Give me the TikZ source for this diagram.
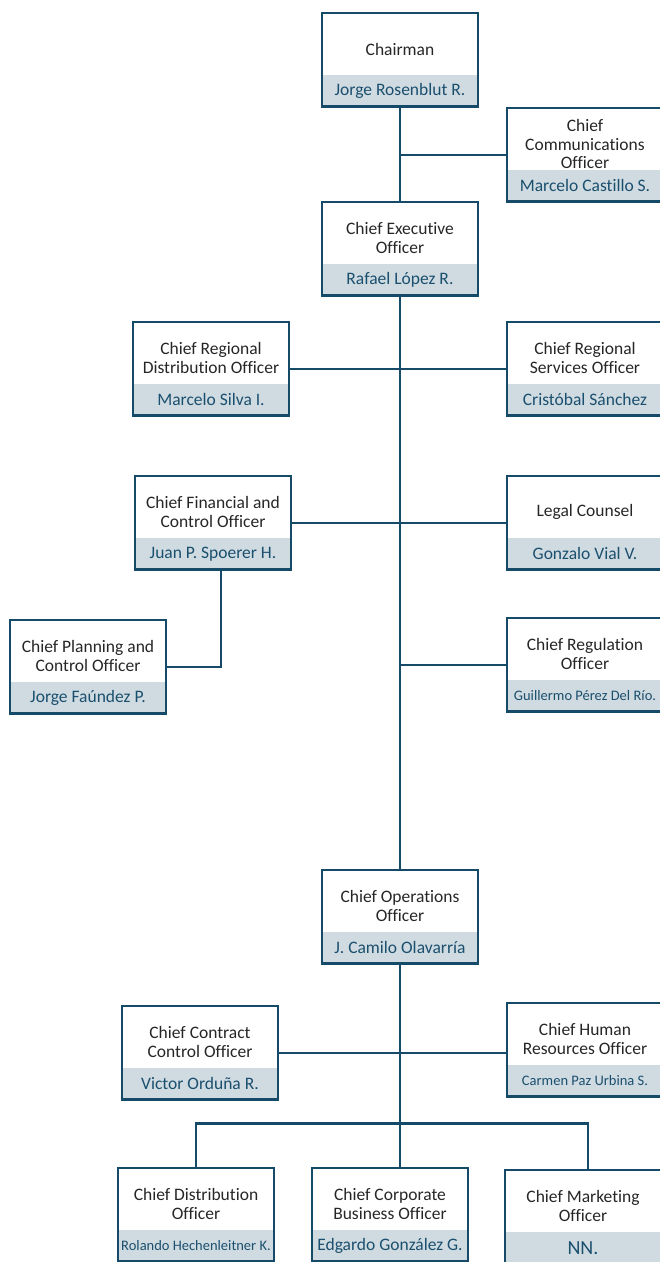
\documentclass[tikz,border=0pt]{standalone}
\usepackage{fontspec}
\setmainfont{Carlito}[Ligatures=NoCommon]
\usetikzlibrary{fit, positioning}
\definecolor{orgframe}{RGB}{22, 74, 105}
\definecolor{orgband}{RGB}{207, 219, 225}
\definecolor{orgname}{RGB}{27, 79, 110}
\newcommand{\smallname}{\fontsize{14.5}{17}\selectfont}
\newcommand{\bigname}{\fontsize{20}{22}\selectfont}
\newcommand{\orgunit}[5][]{%
  \node[unittitle] (#2t) at (#3) {#4};
  \node[unitname, below=0pt of #2t] (#2n) {#1#5};
  \coordinate (#2top) at ([yshift=10pt]#2t.north);
  \node[unitframe, fit=(#2top)(#2n)] (#2) {};
}
\tikzset{
  unittitle/.style={minimum width=155pt, minimum height=52pt, inner sep=0pt,
    align=center, text=black!85, font=\fontsize{17.5}{18.5}\selectfont},
  unitname/.style={minimum width=155pt, minimum height=31pt, inner sep=0pt,
    fill=orgband, text=orgname, font=\fontsize{17.5}{18.5}\selectfont},
  unitframe/.style={draw=orgframe, line width=2.3pt, inner sep=0pt},
  link/.style={draw=orgframe, line width=2.4pt}
}

\begin{document}
\begin{tikzpicture}[x=1pt, y=-1pt]
\useasboundingbox (0,0) rectangle (660,1262);
\orgunit{chair}{400,49}{Chairman}{Jorge Rosenblut R.}
\orgunit{comm}{585,144}{Chief\\Communications\\Officer}{Marcelo Castillo S.}
\orgunit{ceo}{400,238}{Chief Executive\\Officer}{Rafael López R.}
\orgunit{regdist}{211,358}{Chief Regional\\Distribution Officer}{Marcelo Silva I.}
\orgunit{regserv}{585,358}{Chief Regional\\Services Officer}{Cristóbal Sánchez}
\orgunit{fin}{213,512}{Chief Financial and\\Control Officer}{Juan P. Spoerer H.}
\orgunit{legal}{585,512}{Legal Counsel}{Gonzalo Vial V.}
\orgunit{plan}{88,656}{Chief Planning and\\Control Officer}{Jorge Faúndez P.}
\orgunit[\smallname]{regul}{585,654}{Chief Regulation\\Officer}{Guillermo Pérez Del Río.}
\orgunit{coo}{400,906}{Chief Operations\\Officer}{J. Camilo Olavarría}
\orgunit{contract}{200,1042}{Chief Contract\\Control Officer}{Victor Orduña R.}
\orgunit[\smallname]{hr}{585,1039}{Chief Human\\Resources Officer}{Carmen Paz Urbina S.}
\orgunit[\smallname]{dist}{196,1204}{Chief Distribution\\Officer}{Rolando Hechenleitner K.}
\orgunit{corp}{390,1204}{Chief Corporate\\Business Officer}{Edgardo González G.}
\orgunit[\bigname]{mkt}{583,1206}{Chief Marketing\\Officer}{NN.}

\draw[link] (chair.south) -- (ceo.north);
\draw[link] (comm.west) -- (comm.west -| chair.south);
\draw[link] (ceo.south) -- (coo.north);
\draw[link] (regdist.east) -- (regserv.west);
\draw[link] (fin.east) -- (legal.west);
\draw[link] ([xshift=8pt]fin.south) |- (plan.east);
\draw[link] (regul.west) -- (regul.west -| ceo.south);
\draw[link] (contract.east) -- (contract.east -| hr.west);
\draw[link] (coo.south) -- (coo.south |- corp.north);
\draw[link] (dist.north) -- ++(0,-43) -| ([xshift=5pt]mkt.north);
\end{tikzpicture}
\end{document}
